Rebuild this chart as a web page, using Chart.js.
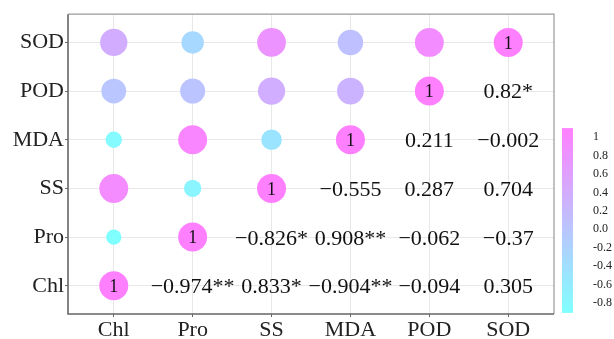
<!DOCTYPE html>
<html>
<head>
<meta charset="utf-8">
<script src="https://cdn.jsdelivr.net/npm/chart.js@4.4.0/dist/chart.umd.min.js"></script>
<style>
  html, body { margin: 0; padding: 0; background: #fff; }
  canvas { display: block; }
</style>
</head>
<body>
<canvas id="myChart" width="614" height="339"></canvas>
<script>
// variables, bottom-left to top-right
const variables = ['Chl', 'Pro', 'SS', 'MDA', 'POD', 'SOD'];

// correlation of each variable with Chl, Pro, SS, MDA, POD, SOD
const corChl = [1, -0.974, 0.833, -0.904, -0.094, 0.305];
const corPro = [-0.974, 1, -0.826, 0.908, -0.062, -0.37];
const corSS  = [0.833, -0.826, 1, -0.555, 0.287, 0.704];
const corMDA = [-0.904, 0.908, -0.555, 1, 0.211, -0.002];
const corPOD = [-0.094, -0.062, 0.287, 0.211, 1, 0.82];
const corSOD = [0.305, -0.37, 0.704, -0.002, 0.82, 1];

// significance marks
const sigChl = ['', '**', '*', '**', '', ''];
const sigPro = ['**', '', '*', '**', '', ''];
const sigSS  = ['*', '*', '', '', '', ''];
const sigMDA = ['**', '**', '', '', '', ''];
const sigPOD = ['', '', '', '', '', '*'];
const sigSOD = ['', '', '', '', '*', ''];

const colorbarTicks = [1, 0.8, 0.6, 0.4, 0.2, 0, -0.2, -0.4, -0.6, -0.8];

const matrix = [corChl, corPro, corSS, corMDA, corPOD, corSOD];
const sigs = [sigChl, sigPro, sigSS, sigMDA, sigPOD, sigSOD];

const cMin = -0.974, cMax = 1;
function corColor(v) {
    let t = (v - cMin) / (cMax - cMin);
    t = Math.max(0, Math.min(1, t));
    const r = Math.round(128 + 127 * t);
    const g = Math.round(255 - 127 * t);
    return `rgb(${r}, ${g}, 255)`;
}
function corSize(v) {
    const d = (1 - v) / 2;
    return 14.5 - 7 * d * d;
}

// circles: upper-left triangle and diagonal
const bubbles = [];
matrix.forEach((row, i) => {
    row.forEach((v, j) => {
        if (i >= j) bubbles.push({x: j + 1, y: i + 1, r: corSize(v), v: v});
    });
});

const serif = "'Liberation Serif', 'Times New Roman', serif";

const cellText = {
    id: 'cellText',
    beforeDatasetsDraw(chart) {
        const {ctx, chartArea: a} = chart;
        ctx.save();
        ctx.lineWidth = 1.2;
        ctx.strokeStyle = '#999';
        ctx.beginPath();
        ctx.moveTo(a.left, a.top); ctx.lineTo(a.right, a.top); ctx.lineTo(a.right, a.bottom);
        ctx.stroke();
        ctx.lineWidth = 1.6;
        ctx.strokeStyle = '#666';
        ctx.beginPath();
        ctx.moveTo(a.left, a.top); ctx.lineTo(a.left, a.bottom); ctx.lineTo(a.right, a.bottom);
        ctx.stroke();

        // colour bar
        const cb = chart.scales.cb;
        const yTop = cb.getPixelForValue(1.1);
        const yBot = cb.getPixelForValue(-0.91);
        const grad = ctx.createLinearGradient(0, yBot, 0, yTop);
        grad.addColorStop(0, corColor(cMin));
        grad.addColorStop(1, corColor(cMax));
        ctx.fillStyle = grad;
        ctx.fillRect(cb.left + 8, yTop, 11, yBot - yTop);
        ctx.restore();
    },
    afterDatasetsDraw(chart) {
        const {ctx} = chart;
        const xs = chart.scales.x, ys = chart.scales.y;
        ctx.save();
        ctx.fillStyle = '#111';
        ctx.textAlign = 'center';
        ctx.textBaseline = 'alphabetic';
        matrix.forEach((row, i) => {
            row.forEach((v, j) => {
                const px = xs.getPixelForValue(j + 1);
                const py = ys.getPixelForValue(i + 1);
                if (i === j) {
                    ctx.font = `18px ${serif}`;
                    ctx.fillText('1', px, py + 6.1);
                } else if (i < j) {
                    const txt = (v < 0 ? '\u2212' : '') + Math.abs(v) + sigs[i][j];
                    ctx.font = `22px ${serif}`;
                    ctx.fillText(txt, px, py + 7.4);
                }
            });
        });
        ctx.restore();
    }
};

const ctx = document.getElementById('myChart').getContext('2d');
const myChart = new Chart(ctx, {
    type: 'bubble',
    data: {
        datasets: [{
            data: bubbles,
            backgroundColor: c => corColor(c.raw.v),
            borderWidth: 0,
            hoverBorderWidth: 0
        }]
    },
    options: {
        responsive: false,
        animation: false,
        events: [],
        layout: {autoPadding: false, padding: {top: 12, right: 0, left: 0, bottom: 0}},
        plugins: {legend: {display: false}, tooltip: {enabled: false}},
        scales: {
            x: {
                type: 'linear',
                min: 0.42, max: 6.58,
                afterBuildTicks: s => { s.ticks = variables.map((v, k) => ({value: k + 1})); },
                afterFit: s => { s.height = 25; },
                ticks: {
                    callback: v => variables[v - 1],
                    font: {family: serif, size: 22},
                    color: '#222',
                    padding: 0,
                    maxRotation: 0
                },
                grid: {color: '#e8e8e8', tickColor: '#666', tickLength: 3, lineWidth: 1},
                border: {display: false}
            },
            y: {
                type: 'linear',
                min: 0.42, max: 6.58,
                afterBuildTicks: s => { s.ticks = variables.map((v, k) => ({value: k + 1})); },
                afterFit: s => { s.width = 68; },
                ticks: {
                    callback: v => variables[v - 1],
                    font: {family: serif, size: 22},
                    color: '#222',
                    padding: 1
                },
                grid: {color: '#e8e8e8', tickColor: '#666', tickLength: 3, lineWidth: 1},
                border: {display: false}
            },
            cb: {
                type: 'linear',
                position: 'right',
                min: -0.922, max: 2.339,
                afterBuildTicks: s => { s.ticks = colorbarTicks.map(v => ({value: v})); },
                afterFit: s => { s.width = 60; },
                ticks: {
                    callback: v => (v === 1 ? '1' : v.toFixed(1)),
                    font: {family: serif, size: 12},
                    color: '#222',
                    padding: 0
                },
                grid: {
                    display: true, drawOnChartArea: false, drawTicks: true,
                    tickLength: 39, tickColor: 'rgba(0,0,0,0)', color: 'rgba(0,0,0,0)'
                },
                border: {display: false}
            }
        }
    },
    plugins: [cellText]
});
</script>
</body>
</html>
